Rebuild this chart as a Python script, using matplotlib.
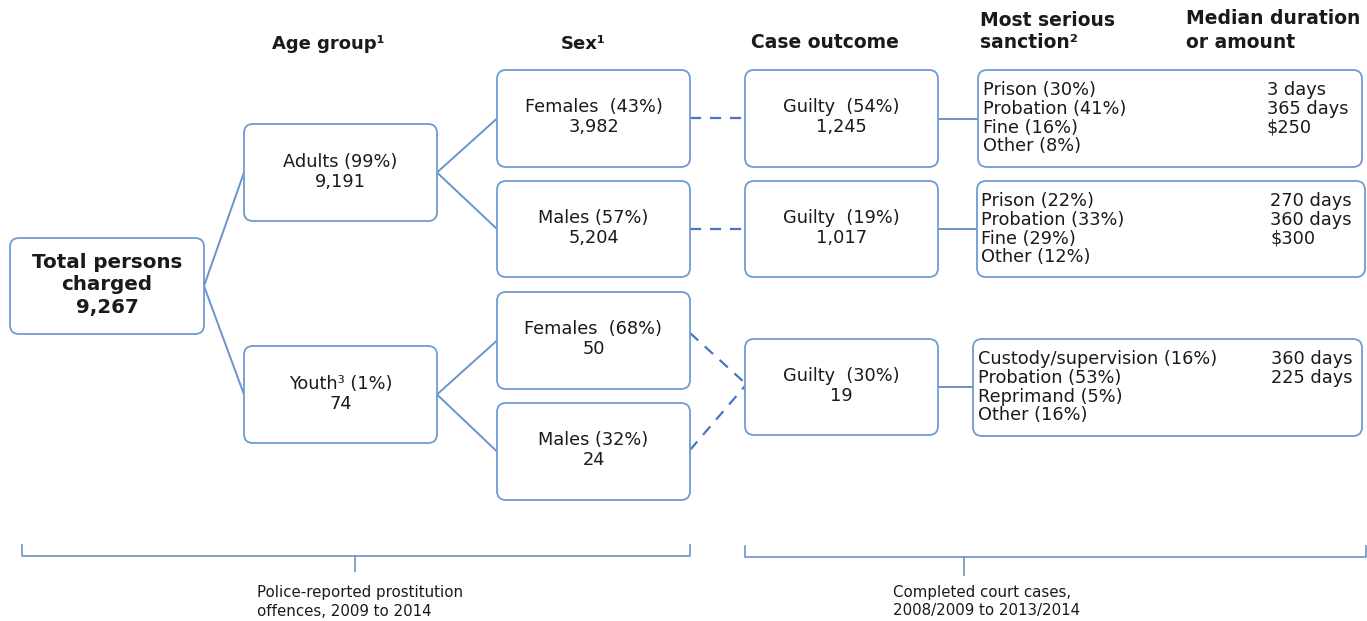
import matplotlib
matplotlib.use("Agg")
import matplotlib.pyplot as plt
from matplotlib.patches import FancyBboxPatch

# ---------------- data ----------------
total_charged = 9267
age_groups = ["Adults", "Youth³"]
age_pct = [99, 1]
age_counts = [9191, 74]
sex_labels = ["Females", "Males", "Females", "Males"]
sex_pct = [43, 57, 68, 32]
sex_counts = [3982, 5204, 50, 24]
guilty_pct = [54, 19, 30]
guilty_counts = [1245, 1017, 19]
sanction_labels = [
    ["Prison (30%)", "Probation (41%)", "Fine (16%)", "Other (8%)"],
    ["Prison (22%)", "Probation (33%)", "Fine (29%)", "Other (12%)"],
    ["Custody/supervision (16%)", "Probation (53%)", "Reprimand (5%)", "Other (16%)"],
]
median_values = [
    ["3 days", "365 days", "$250"],
    ["270 days", "360 days", "$300"],
    ["360 days", "225 days"],
]
headers = ["Age group¹", "Sex¹", "Case outcome", "Most serious\nsanction²", "Median duration\nor amount"]
bracket_notes = ["Police-reported prostitution\noffences, 2009 to 2014",
                 "Completed court cases,\n2008/2009 to 2013/2014"]

# ---------------- figure ----------------
W, H = 1367, 621
fig = plt.figure(figsize=(W / 100, H / 100), dpi=100)
ax = fig.add_axes([0, 0, 1, 1])
ax.set_xlim(0, W)
ax.set_ylim(H, 0)
ax.axis("off")

EDGE = "#6f9bd0"
LINE = "#6a94c8"
DASH = "#4a74c4"
TXT = "#1a1a1a"
FS = 12.8
HFS = 13.5


def box(x0, y0, x1, y1):
    p = FancyBboxPatch((x0, y0), x1 - x0, y1 - y0,
                       boxstyle="round,pad=0,rounding_size=9",
                       fc="white", ec=EDGE, lw=1.3, zorder=2)
    ax.add_patch(p)


def line(p, q, dashed=False):
    if dashed:
        ax.plot([p[0], q[0]], [p[1], q[1]], color=DASH, lw=1.6,
                dashes=(5, 4), zorder=1, solid_capstyle="butt")
    else:
        ax.plot([p[0], q[0]], [p[1], q[1]], color=LINE, lw=1.4, zorder=1)


# headers
ax.text(328, 44, headers[0], ha="center", va="center", fontsize=13, fontweight="bold", color=TXT)
ax.text(583, 44, headers[1], ha="center", va="center", fontsize=13, fontweight="bold", color=TXT)
ax.text(825, 42, headers[2], ha="center", va="center", fontsize=HFS, fontweight="bold", color=TXT)
for i, ln in enumerate(headers[3].split("\n")):
    ax.text(980, 20 + 23 * i, ln, ha="left", va="center", fontsize=HFS, fontweight="bold", color=TXT)
for i, ln in enumerate(headers[4].split("\n")):
    ax.text(1186, 19 + 24 * i, ln, ha="left", va="center", fontsize=HFS, fontweight="bold", color=TXT)

# total box
box(10, 238, 204, 334)
ax.text(107, 262, "Total persons", ha="center", va="center", fontsize=14.3, fontweight="bold", color=TXT)
ax.text(107, 285, "charged", ha="center", va="center", fontsize=14.3, fontweight="bold", color=TXT)
ax.text(107, 307, f"{total_charged:,}", ha="center", va="center", fontsize=14.3, fontweight="bold", color=TXT)

# age boxes
age_boxes = [(244, 124, 437, 221), (244, 346, 437, 443)]
for (x0, y0, x1, y1), g, pc, n in zip(age_boxes, age_groups, age_pct, age_counts):
    box(x0, y0, x1, y1)
    cx = (x0 + x1) / 2
    ax.text(cx, y0 + 38, f"{g} ({pc}%)", ha="center", va="center", fontsize=FS, color=TXT)
    ax.text(cx, y0 + 58, f"{n:,}", ha="center", va="center", fontsize=FS, color=TXT)
    line((204, 286), (x0, (y0 + y1) / 2))

# sex boxes
sex_boxes = [(497, 70, 690, 167), (497, 181, 690, 277), (497, 292, 690, 389), (497, 403, 690, 500)]
for i, ((x0, y0, x1, y1), s, pc, n) in enumerate(zip(sex_boxes, sex_labels, sex_pct, sex_counts)):
    box(x0, y0, x1, y1)
    cx = (x0 + x1) / 2
    sep = "  " if s == "Females" else " "
    ax.text(cx, y0 + 37, f"{s}{sep}({pc}%)", ha="center", va="center", fontsize=FS, color=TXT)
    ax.text(cx, y0 + 57, f"{n:,}", ha="center", va="center", fontsize=FS, color=TXT)
    a = age_boxes[i // 2]
    line((a[2], (a[1] + a[3]) / 2), (x0, (y0 + y1) / 2))

# guilty boxes
guilty_boxes = [(745, 70, 938, 167), (745, 181, 938, 277), (745, 339, 938, 435)]
for (x0, y0, x1, y1), pc, n in zip(guilty_boxes, guilty_pct, guilty_counts):
    box(x0, y0, x1, y1)
    cx = (x0 + x1) / 2
    ax.text(cx, y0 + 37, f"Guilty  ({pc}%)", ha="center", va="center", fontsize=FS, color=TXT)
    ax.text(cx, y0 + 57, f"{n:,}", ha="center", va="center", fontsize=FS, color=TXT)

# dashed connectors sex -> guilty
line((690, 118), (745, 118), dashed=True)
line((690, 229), (745, 229), dashed=True)
line((690, 333), (745, 383), dashed=True)
line((690, 450), (745, 386), dashed=True)

# sanction boxes
sanction_boxes = [(978, 70, 1362, 167), (977, 181, 1365, 277), (973, 339, 1362, 436)]
text_x = [983, 981, 978]
med_x = [1267, 1270, 1271]
for k, ((x0, y0, x1, y1), labs, meds) in enumerate(zip(sanction_boxes, sanction_labels, median_values)):
    box(x0, y0, x1, y1)
    g = guilty_boxes[k]
    gy = (g[1] + g[3]) / 2
    line((g[2], gy), (x0, gy))
    for j, lab in enumerate(labs):
        ax.text(text_x[k], y0 + 20 + 18.8 * j, lab, ha="left", va="center", fontsize=FS, color=TXT)
    for j, m in enumerate(meds):
        ax.text(med_x[k], y0 + 20 + 18.8 * j, m, ha="left", va="center", fontsize=FS, color=TXT)

# brackets
def bracket(x0, x1, xm, ytop, ybot, ytick):
    ax.plot([x0, x0, x1, x1], [ytop, ybot, ybot, ytop], color=LINE, lw=1.2)
    ax.plot([xm, xm], [ybot, ytick], color=LINE, lw=1.2)

bracket(22, 690, 355, 545, 556, 571)
bracket(745, 1366, 964, 546, 557, 575)
for i, ln in enumerate(bracket_notes[0].split("\n")):
    ax.text(257, 593 + 18 * i, ln, ha="left", va="center", fontsize=10.8, color=TXT)
for i, ln in enumerate(bracket_notes[1].split("\n")):
    ax.text(893, 592 + 18 * i, ln, ha="left", va="center", fontsize=10.8, color=TXT)

fig.savefig("out.png", dpi=100)
